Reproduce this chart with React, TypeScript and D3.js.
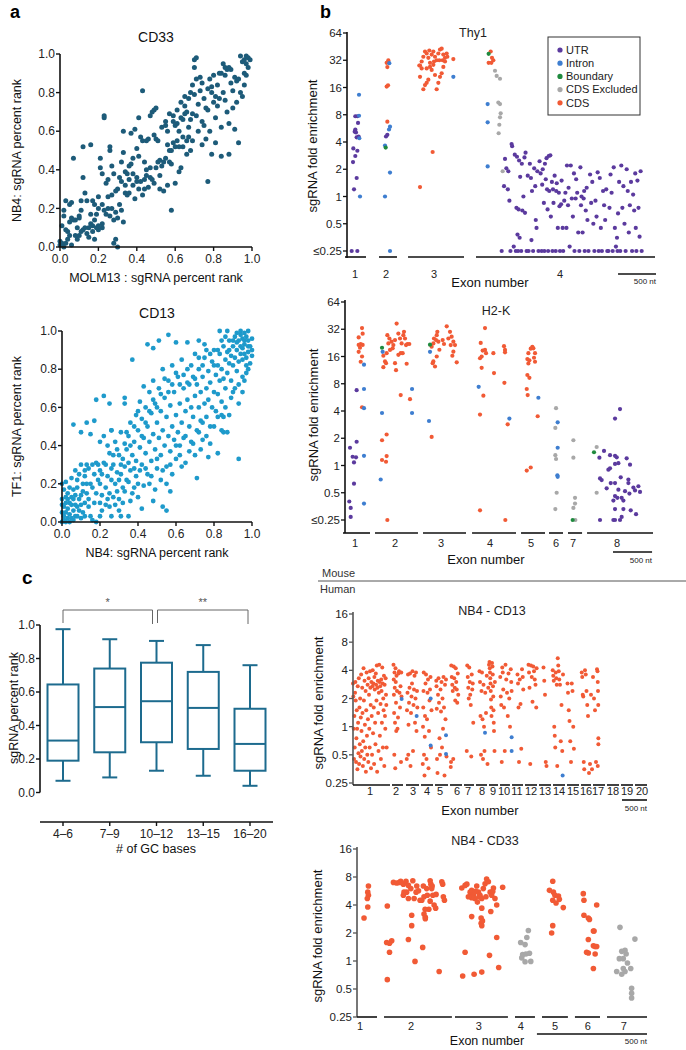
import React from "react";
import * as d3 from "d3";

const FONT = "'Liberation Sans', Arial, Helvetica, sans-serif";

// ---------------- Panel a ----------------
const rankTicks = [0, 0.2, 0.4, 0.6, 0.8, 1.0];

const cd33Rank: [number, number][] = [
  [0.0,0.01],[0.01,0.02],[0.02,0.0],[0.0,0.03],[0.03,0.02],[0.01,0.11],[0.02,0.16],[0.04,0.08],[0.05,0.13],[0.06,0.15],[0.07,0.14],[0.03,0.24],[0.05,0.22],[0.06,0.23],[0.08,0.14],[0.09,0.04],[0.1,0.06],[0.04,0.04],[0.06,0.01],[0.09,0.1],[0.1,0.16],[0.12,0.09],[0.11,0.24],[0.1,0.15],[0.07,0.46],[0.12,0.36],[0.12,0.52],[0.16,0.53],[0.13,0.28],[0.14,0.07],[0.15,0.05],[0.16,0.12],[0.17,0.24],[0.17,0.11],[0.18,0.22],[0.19,0.17],[0.2,0.2],[0.2,0.26],[0.18,0.04],[0.2,0.11],[0.21,0.41],[0.21,0.46],[0.22,0.38],[0.23,0.67],[0.23,0.68],[0.22,0.1],[0.23,0.19],[0.24,0.33],[0.25,0.35],[0.25,0.2],[0.26,0.5],[0.26,0.52],[0.27,0.27],[0.27,0.42],[0.28,0.38],[0.28,0.02],[0.29,0.04],[0.3,0.0],[0.29,0.18],[0.3,0.3],[0.31,0.22],[0.32,0.44],[0.32,0.34],[0.33,0.6],[0.33,0.49],[0.34,0.39],[0.34,0.28],[0.35,0.27],[0.36,0.28],[0.36,0.42],[0.37,0.59],[0.38,0.38],[0.38,0.32],[0.39,0.61],[0.39,0.25],[0.4,0.34],[0.4,0.51],[0.41,0.67],[0.41,0.3],[0.42,0.57],[0.43,0.81],[0.43,0.27],[0.44,0.44],[0.44,0.35],[0.45,0.4],[0.45,0.37],[0.46,0.56],[0.47,0.36],[0.47,0.68],[0.48,0.7],[0.49,0.71],[0.5,0.72],[0.49,0.58],[0.49,0.33],[0.5,0.56],[0.51,0.55],[0.52,0.3],[0.52,0.45],[0.53,0.42],[0.54,0.29],[0.55,0.46],[0.55,0.65],[0.56,0.6],[0.56,0.32],[0.57,0.44],[0.57,0.69],[0.58,0.43],[0.58,0.19],[0.59,0.65],[0.59,0.68],[0.6,0.63],[0.6,0.52],[0.6,0.33],[0.61,0.71],[0.61,0.55],[0.62,0.39],[0.62,0.6],[0.63,0.67],[0.63,0.41],[0.64,0.57],[0.64,0.52],[0.65,0.73],[0.65,0.69],[0.66,0.55],[0.66,0.48],[0.67,0.62],[0.67,0.77],[0.68,0.5],[0.68,0.8],[0.69,0.55],[0.69,0.84],[0.7,0.79],[0.7,0.93],[0.7,0.97],[0.71,0.98],[0.71,0.87],[0.72,0.74],[0.72,0.6],[0.73,0.81],[0.73,0.88],[0.74,0.53],[0.74,0.85],[0.75,0.77],[0.75,0.63],[0.76,0.72],[0.76,0.56],[0.77,0.34],[0.77,0.82],[0.78,0.6],[0.78,0.87],[0.79,0.8],[0.79,0.48],[0.8,0.75],[0.8,0.89],[0.81,0.67],[0.81,0.54],[0.82,0.73],[0.82,0.84],[0.83,0.9],[0.83,0.77],[0.84,0.62],[0.84,0.47],[0.85,0.95],[0.85,0.8],[0.86,0.89],[0.86,0.76],[0.87,0.92],[0.87,0.7],[0.88,0.64],[0.88,0.48],[0.89,0.85],[0.89,0.92],[0.9,0.72],[0.9,0.81],[0.91,0.88],[0.91,0.61],[0.92,0.75],[0.92,0.86],[0.93,0.54],[0.93,0.87],[0.94,0.8],[0.94,0.99],[0.95,0.96],[0.95,0.78],[0.96,0.9],[0.96,0.97],[0.97,0.99],[0.97,0.95],[0.98,0.93],[0.98,0.98],[0.99,0.97],[0.97,0.89],[0.96,0.84],[0.86,0.93],[0.88,0.93],[0.84,0.9],[0.81,0.78],[0.79,0.83],[0.77,0.71],[0.74,0.65],[0.71,0.68],[0.68,0.66],[0.66,0.7],[0.64,0.66],[0.62,0.52],[0.58,0.5],[0.56,0.53],[0.54,0.44],[0.52,0.37],[0.5,0.41],[0.48,0.35],[0.46,0.31],[0.44,0.3],[0.42,0.34],[0.4,0.36],[0.38,0.46],[0.36,0.35],[0.34,0.32],[0.33,0.13],[0.32,0.19],[0.3,0.15],[0.28,0.14],[0.26,0.16],[0.24,0.17],[0.22,0.12],[0.2,0.09],[0.19,0.1],[0.17,0.08],[0.15,0.1],[0.13,0.1],[0.11,0.08],[0.08,0.06],[0.05,0.06],[0.03,0.09],[0.02,0.19],[0.11,0.19],[0.14,0.24],[0.16,0.17],[0.18,0.14],[0.22,0.22],[0.25,0.26],[0.27,0.2],[0.29,0.29],[0.31,0.36],[0.35,0.38],[0.37,0.43],[0.41,0.47],[0.43,0.55],[0.45,0.55],[0.47,0.41],[0.51,0.44],[0.53,0.62],[0.55,0.63],[0.57,0.5],[0.59,0.54],[0.61,0.64],[0.63,0.75],[0.65,0.78],[0.67,0.57],[0.69,0.69]
];

const cd13Rank: [number, number][] = [
  [0.06,0.51],[0.1,0.47],[0.13,0.52],[0.15,0.46],[0.17,0.53],[0.18,0.64],[0.2,0.42],[0.22,0.66],[0.25,0.62],[0.26,0.48],[0.33,0.65],[0.37,0.85],[0.45,0.93],[0.48,0.91],[0.51,0.95],[0.56,0.98],[0.6,0.94],[0.66,0.94],[0.72,0.95],[0.75,0.93],[0.83,1.0],[0.87,1.0],[0.93,0.33],[0.82,0.36],[0.77,0.34],[0.73,0.38],[0.71,0.23],[0.55,0.06],[0.53,0.08],[0.57,0.16],[0.48,0.11],[0.42,0.07],[0.35,0.03],[0.31,0.03],[0.26,0.03],[0.18,0.0],[0.2,0.03],[0.85,0.47],[0.87,0.47],[0.84,0.56],[0.85,0.55],
  [0.0,0.0],[0.01,0.01],[0.02,0.0],[0.03,0.02],[0.01,0.03],[0.0,0.05],[0.02,0.05],[0.04,0.04],[0.05,0.02],[0.03,0.07],[0.01,0.08],[0.0,0.12],[0.02,0.13],[0.04,0.1],[0.06,0.06],[0.07,0.03],[0.05,0.09],[0.08,0.08],[0.06,0.12],[0.03,0.15],[0.01,0.17],[0.0,0.2],[0.04,0.18],[0.07,0.14],[0.09,0.12],[0.08,0.18],[0.05,0.23],[0.1,0.02],[0.11,0.05],[0.12,0.1],[0.1,0.14],[0.11,0.2],[0.09,0.25],[0.12,0.27],[0.13,0.15],[0.14,0.12],[0.15,0.03],[0.16,0.01],[0.14,0.08],[0.15,0.2],[0.16,0.3],[0.17,0.25],[0.13,0.3],[0.02,0.21],[0.06,0.17],[0.0,0.09],[0.02,0.1],[0.03,0.12],[0.07,0.09],[0.08,0.03],[0.04,0.0],[0.06,0.01],[0.09,0.06],[0.12,0.03],[0.1,0.09],[0.11,0.16],[0.13,0.2],[0.05,0.13],
  [0.18,0.31],[0.19,0.22],[0.2,0.27],[0.21,0.14],[0.22,0.31],[0.2,0.1],[0.23,0.18],[0.24,0.24],[0.22,0.45],[0.24,0.4],[0.25,0.36],[0.26,0.48],[0.27,0.13],[0.27,0.3],[0.28,0.42],[0.28,0.2],[0.29,0.26],[0.3,0.35],[0.3,0.12],[0.31,0.47],[0.31,0.25],[0.32,0.33],[0.32,0.18],[0.33,0.62],[0.33,0.29],[0.34,0.38],[0.34,0.22],[0.35,0.45],[0.35,0.31],[0.36,0.52],[0.36,0.27],[0.37,0.35],[0.37,0.15],[0.38,0.42],[0.38,0.28],[0.39,0.56],[0.39,0.32],[0.4,0.48],[0.4,0.2],[0.41,0.39],[0.41,0.63],[0.42,0.3],[0.42,0.54],[0.43,0.44],[0.43,0.71],[0.44,0.36],[0.44,0.6],[0.45,0.5],[0.45,0.25],[0.46,0.42],[0.46,0.68],[0.47,0.57],[0.47,0.32],[0.48,0.46],[0.48,0.74],[0.49,0.38],[0.49,0.62],[0.5,0.52],[0.5,0.28],[0.51,0.44],[0.51,0.7],[0.52,0.35],[0.52,0.58],[0.53,0.48],[0.53,0.8],[0.54,0.4],[0.54,0.65],[0.55,0.55],[0.55,0.29],[0.56,0.45],[0.56,0.74],[0.57,0.37],[0.57,0.61],[0.58,0.5],[0.58,0.82],[0.59,0.43],[0.59,0.68],[0.6,0.56],[0.6,0.33],[0.61,0.47],[0.61,0.76],[0.62,0.62],[0.62,0.4],[0.63,0.52],[0.63,0.85],[0.64,0.44],[0.64,0.7],[0.65,0.58],[0.65,0.31],[0.66,0.64],[0.66,0.8],[0.67,0.5],[0.67,0.72],[0.68,0.42],[0.68,0.6],[0.69,0.76],[0.69,0.55],[0.7,0.66],[0.7,0.88],[0.71,0.48],[0.71,0.72],[0.72,0.6],[0.72,0.8],[0.73,0.53],[0.73,0.68],[0.74,0.76],[0.74,0.43],[0.75,0.62],[0.75,0.86],[0.76,0.7],[0.76,0.55],[0.77,0.79],[0.77,0.64],[0.78,0.73],[0.78,0.5],[0.79,0.84],[0.79,0.6],[0.8,0.68],[0.8,0.9],[0.81,0.77],[0.81,0.58],[0.82,0.82],[0.82,0.67],[0.83,0.74],[0.83,0.88],[0.84,0.8],[0.84,0.63],[0.85,0.92],[0.85,0.75],[0.86,0.85],[0.86,0.7],[0.87,0.89],[0.87,0.78],[0.88,0.95],[0.88,0.83],[0.89,0.87],[0.89,0.74],[0.9,0.92],[0.9,0.82],[0.91,0.97],[0.91,0.86],[0.92,0.9],[0.92,0.79],[0.93,0.95],[0.93,0.84],[0.94,0.98],[0.94,0.88],[0.95,0.96],[0.95,0.91],[0.96,0.99],[0.96,0.93],[0.97,0.97],[0.97,0.86],[0.98,0.95],[0.98,0.89],[0.99,0.92],[0.99,0.83],[1.0,0.87],[1.0,0.96],[0.95,0.76],[0.97,0.78],[0.93,0.72],[0.9,0.68],[0.92,0.99],[0.94,1.0],[0.96,0.95],[0.98,1.0],
  [0.21,0.06],[0.23,0.09],[0.25,0.15],[0.26,0.22],[0.28,0.09],[0.29,0.16],[0.3,0.06],[0.32,0.1],[0.33,0.16],[0.35,0.21],[0.36,0.11],[0.38,0.18],[0.39,0.24],[0.4,0.13],[0.41,0.27],[0.43,0.19],[0.44,0.28],[0.46,0.2],[0.47,0.24],[0.49,0.17],[0.5,0.33],[0.52,0.22],[0.53,0.27],[0.55,0.2],[0.57,0.3],[0.58,0.25],[0.6,0.4],[0.62,0.35],[0.63,0.29],[0.65,0.45],[0.67,0.37],[0.69,0.41],[0.7,0.35],[0.72,0.47],[0.74,0.52],[0.76,0.45],[0.78,0.41],[0.8,0.5],[0.82,0.55],[0.84,0.48],[0.86,0.6],[0.88,0.56],[0.89,0.65],[0.91,0.7],[0.93,0.62],[0.95,0.68],[0.96,0.74],[0.98,0.8],[1.0,0.9],[0.07,0.27],[0.08,0.22],[0.1,0.3],[0.12,0.24],[0.14,0.28],[0.16,0.18],[0.17,0.1],[0.18,0.15],[0.19,0.3],[0.2,0.2],[0.21,0.25],[0.23,0.3],[0.24,0.12],[0.25,0.08],[0.26,0.28],[0.27,0.35],[0.29,0.38],[0.3,0.22],[0.31,0.3],[0.33,0.41],[0.34,0.47],[0.36,0.4],[0.38,0.5],[0.4,0.58],[0.42,0.45],[0.44,0.52],[0.46,0.58],[0.48,0.64],[0.5,0.6],[0.52,0.67],[0.54,0.75],[0.56,0.68],[0.58,0.72],[0.6,0.78],[0.62,0.72],[0.64,0.77],[0.66,0.73],[0.68,0.82],[0.7,0.75],[0.72,0.86],[0.74,0.82],[0.76,0.9],[0.78,0.88],[0.8,0.82],[0.82,0.9],[0.84,0.95],[0.86,0.97],[0.88,0.9],[0.9,0.95],[0.92,0.94],[0.94,0.92],[0.96,0.88],[0.98,0.92],[0.97,0.82],[0.95,0.85]
];

// ---------------- Panel c ----------------
const gcGroups = ["4–6", "7–9", "10–12", "13–15", "16–20"];
const gcWhiskerLow = [0.07, 0.09, 0.13, 0.1, 0.04];
const gcQ1 = [0.19, 0.24, 0.3, 0.26, 0.13];
const gcMedian = [0.31, 0.51, 0.545, 0.505, 0.29];
const gcQ3 = [0.645, 0.74, 0.775, 0.72, 0.5];
const gcWhiskerHigh = [0.975, 0.915, 0.905, 0.88, 0.76];
const gcBrackets: [number, number, string][] = [[0, 2, "*"], [2, 4, "**"]];

// ---------------- Panel b ----------------
const mouseTicks = [0.25, 0.5, 1, 2, 4, 8, 16, 32, 64];
const mouseTickLabels = ["≤0.25", "0.5", "1", "2", "4", "8", "16", "32", "64"];
const humanTicks = [0.25, 0.5, 1, 2, 4, 8, 16];
const humanTickLabels = ["0.25", "0.5", "1", "2", "4", "8", "16"];

const legendItems = ["UTR", "Intron", "Boundary", "CDS Excluded", "CDS"];
const legendColors = ["#5b3a9e", "#3e7ed0", "#1f8a3e", "#a8a8a8", "#f15a35"];

// Thy1 (position in nt, fold enrichment)
const thy1Exons: [number, number][] = [[0, 277], [449, 686], [832, 1571], [1729, 4092]];
const thy1LabelNt = [132, 541, 1175, 2838];
const thy1UTR: [number, number][] = [
  [88,0.25],[163,0.25],[119,1.2],[154,1.6],[106,2.4],[136,2.8],[110,3.4],[163,3.2],[145,5.1],[180,4.6],[136,5.5],[172,6.5],[136,7.7],[163,7.7],[128,5.2],[154,4.5],[541,4.6],[559,4.8],
  [2068,0.25],[2099,1.3],[2112,2.6],[2130,2.05],[2149,1.2],[2156,1.9],[2170,0.9],[2184,0.25],[2199,3.8],[2206,3.6],[2227,0.28],[2241,2.9],[2255,0.25],[2263,0.75],[2270,2.75],[2277,0.38],[2284,0.25],[2291,0.72],[2298,2.5],[2305,0.35],[2312,1.65],[2326,0.25],[2334,2.3],[2341,0.7],[2355,1.0],[2369,2.7],[2376,0.66],[2383,3.05],[2397,0.25],[2412,1.7],[2423,0.25],[2440,2.3],[2454,1.6],[2461,0.33],[2468,1.15],[2483,0.25],[2497,2.05],[2511,1.3],[2518,0.55],[2528,0.45],[2539,1.9],[2554,0.25],[2568,2.45],[2582,1.8],[2596,0.25],[2603,1.35],[2610,2.0],[2625,0.85],[2632,0.25],[2639,2.3],[2650,1.55],[2660,2.65],[2667,1.2],[2674,0.72],[2681,0.25],[2689,2.8],[2696,1.15],[2710,2.85],[2717,0.6],[2731,1.45],[2738,0.25],[2745,1.2],[2752,0.85],[2767,1.7],[2781,0.25],[2788,1.15],[2795,1.4],[2809,0.45],[2823,1.1],[2831,0.78],[2838,0.25],[2852,0.82],[2859,1.5],[2873,0.45],[2880,0.25],[2894,0.9],[2909,1.1],[2923,0.45],[2930,2.2],[2944,0.8],[2951,1.25],[2965,0.28],[2980,2.2],[2994,0.95],[3008,0.6],[3022,1.8],[3029,0.25],[3044,0.95],[3051,1.55],[3065,1.1],[3079,0.4],[3093,0.25],[3107,2.1],[3115,0.8],[3122,1.0],[3136,0.4],[3150,0.95],[3157,1.15],[3164,0.25],[3178,0.7],[3190,1.25],[3200,0.55],[3214,0.25],[3235,1.75],[3249,0.85],[3264,1.45],[3278,0.5],[3292,0.25],[3306,0.9],[3320,0.6],[3335,1.85],[3349,0.25],[3363,1.6],[3377,0.45],[3391,0.25],[3406,1.15],[3420,0.8],[3434,0.55],[3448,1.2],[3462,0.25],[3477,0.25],[3491,0.75],[3505,1.75],[3519,1.1],[3533,0.25],[3547,2.1],[3562,0.45],[3576,0.28],[3590,0.35],[3597,0.25],[3604,0.65],[3618,1.45],[3633,0.25],[3647,2.2],[3661,0.75],[3675,1.3],[3689,0.5],[3704,0.25],[3718,2.0],[3732,1.15],[3746,0.4],[3760,0.8],[3775,1.45],[3789,0.25],[3803,1.05],[3817,0.7],[3831,1.8],[3838,0.45],[3846,0.25],[3860,1.5],[3874,0.75],[3888,0.36],[3902,1.9],[3916,0.25]
];
const thy1Intron: [number, number][] = [
  [185,13.3],[185,7.8],[189,4.4],[198,1.0],[528,3.66],[528,1.0],[594,1.84],[594,5.9],[581,5.5],[585,29.7],[594,0.25],[1430,21],[1883,10.5],[1883,6.6],[1883,2.15]
];
const thy1Boundary: [number, number][] = [[537,3.47],[1896,37.7]];
const thy1Excluded: [number, number][] = [
  [1980,24.5],[2002,21.5],[2046,20],[2024,10.9],[2046,10.5],[2055,8.3],[2046,7.5],[2037,6.2],[2028,5],[2081,1.9]
];
const thy1CDS: [number, number][] = [
  [572,32],[550,30],[559,26.9],[550,16.4],[568,16.9],[559,6.7],
  [990,28],[1012,31],[1034,35],[1056,40],[1078,38],[1100,34],[1122,30],[1144,37],[1166,40],[1188,35],[1210,32],[1232,38],[1254,42],[1276,43],[1298,37],[1320,34],[1342,38],[990,21],[1034,15.3],[1056,17],[1078,18],[1100,19.5],[1122,27],[1144,25],[1166,28.5],[1188,22],[1210,15.3],[1232,18],[1254,21],[1276,23],[1298,27],[1320,31],[1351,35],[1078,26],[1012,26],[981,28],[1113,41],[1175,31],[1245,32],[1289,32],[1430,33],[1157,3.1],[990,1.27],
  [1923,40],[1940,34],[1896,30],[1932,30],[1958,32]
];

// H2-K
const h2kExons: [number, number][] = [[-25,320],[384,934],[998,1549],[1626,2189],[2253,2560],[2611,2790],[2854,3034],[3098,3942]];
const h2kLabelNt = [128, 640, 1229, 1856, 2381, 2701, 2918, 3482];
const h2kUTR: [number, number][] = [
  [64,1.57],[149,1.83],[98,1.25],[141,1.23],[115,1.08],[115,0.63],[149,6.8],[55,0.4],[73,0.34],[73,0.27],
  [3256,1.22],[3315,1.45],[3392,1.3],[3456,1.28],[3478,1.23],[3605,1.2],[3648,1.02],[3371,0.9],[3392,0.93],[3456,1.04],[3499,1.06],[3264,0.72],[3285,0.69],[3401,0.64],[3456,0.64],[3529,0.74],[3627,0.7],[3627,0.64],[3349,0.56],[3499,0.54],[3584,0.52],[3691,0.57],[3712,0.53],[3776,0.51],[3755,0.59],[3456,0.46],[3486,0.44],[3541,0.44],[3563,0.41],[3435,0.41],[3640,0.49],[3456,0.33],[3563,0.33],[3657,0.32],[3725,0.29],[3541,0.27],[3435,0.25],[3456,0.25],[3264,0.25],[3520,0.25],[3456,3.3],[3520,4.2]
];
const h2kIntron: [number, number][] = [
  [243,13],[243,7],[243,4.3],[243,1.28],[243,0.38],[474,3.8],[457,0.7],[482,18],[858,7],[858,3.8],[1088,18],[1075,3.1],[1711,7.4],[2104,3.3],[2475,5.6],[2722,3.0],[2722,1.57],[2718,0.78],[2722,0.75]
];
const h2kBoundary: [number, number][] = [[474,20],[1088,21.6],[2914,0.25],[3187,1.4]];
const h2kExcluded: [number, number][] = [
  [2701,4.3],[2692,2.6],[2692,1.3],[2701,1.18],[2709,0.5],[2692,0.33],[2923,1.9],[2923,1.22],[2944,0.44],[2944,0.38],[2923,0.34],[2948,0.25],[3221,1.6],[3221,0.5]
];
const h2kCDS: [number, number][] = [
  [218,33],[226,28.6],[175,26],[201,22],[175,21.5],[226,21.5],[192,20],[175,18],[218,16],[201,14],[218,4.4],
  [542,27.5],[568,25.3],[555,22.3],[597,23.3],[576,18.9],[491,16.3],[512,14.1],[525,13.5],[533,17.4],[619,21.4],[640,24.3],[661,37],[683,28.7],[704,25.3],[725,22.3],[747,27.5],[755,30],[768,25.3],[781,21.4],[798,22],[823,22],[683,16.7],[713,17.4],[738,17.4],[640,13.5],[789,13.3],[653,11.3],[491,12.2],[610,19.7],[713,6.0],[832,5.4],[474,1.9],[533,2.2],[474,1.15],[525,1.1],[533,1.27],[542,0.25],
  [1182,30],[1174,27.5],[1139,25.3],[1165,24.3],[1131,22.3],[1195,23.3],[1302,34.5],[1344,30],[1365,26.5],[1323,25.3],[1387,23.3],[1353,21.4],[1408,21.4],[1387,18.1],[1374,16.3],[1430,13.8],[1131,14.1],[1122,13.5],[1152,12.4],[1109,20.5],[1208,19],[1174,16],[1250,24.3],[1267,22],[1109,2.07],
  [1792,33],[1737,22.6],[1762,18.6],[1792,18.9],[1805,17.4],[1728,15.3],[1749,16],[1899,17.4],[1749,12],[1907,10.5],[2035,20.8],[2048,18.9],[2048,17.8],[2040,8.2],[1771,5.9],[1728,3.65],[2082,2.85],[1728,0.32],[2052,0.25],
  [2398,20.5],[2377,19.5],[2411,19.7],[2347,17.4],[2432,17.4],[2334,15],[2360,14.5],[2419,15.5],[2347,13.4],[2432,14],[2334,10],[2360,9.3],[2326,7],[2338,6],[2466,3.5],[2326,0.88],[2377,0.95]
];

// NB4 - CD13
const cd13Exons: [number, number][] = [[0,740],[780,1000],[1060,1320],[1360,1600],[1640,1900],[1940,2180],[2220,2420],[2460,2680],[2720,2900],[2940,3140],[3180,3400],[3440,3680],[3720,3960],[4000,4240],[4280,4520],[4560,4760],[4800,5040],[5080,5320],[5360,5600],[5640,5880]];
const cd13LabelNt = [340,860,1200,1480,1740,2080,2300,2580,2800,3020,3280,3560,3840,4120,4400,4660,4900,5200,5480,5780];
const cd13CDS: [number, number][] = [
  [0,2.9],[7,2.1],[14,0.95],[20,0.45],[27,1.3],[34,0.6],[41,2.3],[48,3.0],[54,1.9],[61,0.42],[68,0.75],[75,1.5],[82,0.95],[88,0.35],[95,2.7],[102,1.1],[109,0.52],[116,3.3],[122,0.4],[129,1.6],[136,0.65],[143,2.0],[150,0.48],[156,1.25],[163,3.6],[170,0.9],[177,0.55],[184,2.6],[190,1.4],[197,0.38],[204,0.7],[211,4.2],[218,1.9],[224,0.45],[231,3.1],[238,1.05],[245,0.6],[252,2.4],[258,0.33],[265,1.5],[272,3.8],[279,0.8],[286,0.5],[292,2.8],[299,1.2],[306,0.42],[313,3.3],[320,2.2],[326,0.95],[333,0.6],[340,3.9],[347,2.6],[354,1.7],[360,0.36],[367,3.0],[374,1.3],[381,0.5],[388,2.7],[394,4.0],[401,0.85],[408,2.9],[415,1.6],[422,0.4],[428,3.4],[435,2.5],[442,1.1],[449,0.65],[456,3.7],[462,2.8],[469,1.9],[476,4.5],[483,0.33],[490,2.6],[496,3.1],[503,1.4],[510,0.55],[517,2.3],[524,4.6],[530,3.0],[537,0.8],[544,2.7],[551,1.75],[558,0.45],[564,3.2],[571,2.4],[578,1.1],[585,4.3],[592,2.9],[598,0.6],[605,2.0],[612,1.5],[619,3.5],[626,0.38],[632,2.8],[639,1.3],[646,0.95],[653,3.3],[660,2.2],[666,1.7],[673,0.6],
  [810,4.6],[815,3.2],[818,2.2],[822,1.4],[826,0.5],[830,3.8],[835,2.6],[840,1.1],[845,0.36],[850,4.2],[855,3.0],[860,1.8],[865,0.9],[870,3.5],[880,2.4],[890,0.95],[900,1.25],[910,3.7],[920,3.9],[930,2.3],[940,1.6],[950,2.7],[960,0.42],[965,3.8],[970,2.1],
  [1075,0.45],[1080,1.5],[1090,2.3],[1100,3.6],[1105,0.5],[1110,1.05],[1120,1.8],[1130,2.6],[1140,3.7],[1150,0.38],[1160,1.4],[1170,2.1],[1180,2.9],[1190,3.9],[1200,0.55],[1210,1.7],[1220,2.5],[1230,3.5],[1240,1.1],[1250,2.0],[1260,3.8],[1270,0.9],[1280,2.4],[1287,1.6],
  [1395,0.4],[1400,1.0],[1405,1.6],[1410,2.4],[1415,3.8],[1420,0.5],[1430,0.3],[1435,0.78],[1440,1.3],[1450,2.9],[1460,3.6],[1470,0.45],[1480,1.2],[1490,2.3],[1500,3.2],[1510,0.36],[1520,0.9],[1530,1.9],[1540,2.5],[1550,3.4],[1560,0.6],[1570,1.5],
  [1665,3.1],[1670,2.7],[1675,1.55],[1680,0.45],[1690,0.32],[1700,2.2],[1710,3.3],[1720,1.8],[1730,0.75],[1740,0.5],[1750,2.5],[1760,1.45],[1770,3.0],[1780,0.6],[1790,2.0],[1800,0.95],[1810,3.4],[1820,1.6],[1830,0.3],[1840,2.8],[1850,1.2],[1860,3.2],[1870,0.48],
  [1955,0.37],[1960,0.42],[1965,4.5],[1975,3.4],[1985,2.8],[1995,2.4],[2005,0.45],[2015,4.4],[2025,3.3],[2035,2.6],[2045,1.9],[2055,4.2],[2065,3.0],[2075,2.5],[2085,1.8],[2095,3.7],[2105,2.2],
  [2275,0.55],[2285,4.5],[2295,3.4],[2305,2.6],[2315,2.0],[2325,4.3],[2335,3.0],[2345,2.2],[2355,1.7],[2365,0.48],[2375,3.6],[2385,2.5],[2395,2.9],[2405,1.1],
  [2530,3.9],[2540,3.0],[2550,1.3],[2560,0.5],[2570,2.4],[2580,3.8],[2590,1.2],[2600,0.45],[2610,2.8],[2620,1.0],[2630,0.55],[2645,2.3],[2660,1.4],[2675,3.5],[2690,0.4],[2705,2.6],[2720,4.6],[2730,4.9],[2735,4.2],[2740,3.8],[2745,3.3],[2750,2.9],[2755,2.4],[2760,1.95],[2765,1.6],[2770,1.3],[2780,4.8],[2790,4.4],[2795,3.6],[2800,2.7],[2805,2.1],[2810,1.5],[2815,1.1],[2820,0.9],[2830,0.55],[2838,3.0],
  [2945,3.4],[2955,2.1],[2965,1.7],[2975,0.42],[2985,4.3],[2995,3.8],[3005,2.5],[3020,1.6],[3035,0.55],[3050,4.6],[3065,3.2],[3080,2.3],[3095,1.3],[3110,3.7],[3125,2.0],[3140,1.0],[3155,4.1],[3165,3.0],[3172,2.4],
  [3290,3.6],[3300,2.9],[3310,1.6],[3320,0.42],[3335,3.2],[3350,1.75],[3365,0.58],[3380,4.1],[3395,3.4],[3405,2.5],
  [3510,4.6],[3520,3.8],[3530,2.6],[3545,0.4],[3560,4.5],[3575,3.4],[3590,1.85],[3605,4.4],[3620,3.9],[3635,3.2],[3650,2.8],[3665,1.6],[3672,4.2],
  [3810,4.3],[3825,3.1],[3840,2.2],[3855,0.42],[3870,0.38],
  [3995,4.0],[4005,3.5],[4015,3.1],[4025,1.0],[4035,0.8],[4045,0.6],[4055,3.8],[4065,3.3],[4075,2.8],[4085,0.38],[4095,5.4],[4105,4.5],[4115,3.9],[4125,3.2],[4140,2.8],[4155,0.7],[4170,1.7],[4185,0.55],[4200,3.6],
  [4290,2.9],[4300,2.3],[4315,1.5],[4330,1.15],[4345,0.7],[4360,0.42],[4375,2.9],[4390,2.4],[4405,1.0],[4418,0.58],
  [4575,3.8],[4585,3.4],[4595,2.2],[4605,2.1],[4615,0.42],[4625,0.35],[4640,4.0],[4655,3.6],[4670,2.4],[4685,1.7],[4700,1.3],[4720,0.32],[4740,0.4],[4760,2.2],[4780,0.35],[4800,3.4],[4820,2.0],[4840,1.5],[4860,0.42],[4880,4.1],[4890,3.9],[4895,3.0],[4900,2.4],[4905,1.7],[4907,0.65],[4907,0.75],[4895,0.38]
];
const cd13Intron: [number, number][] = [
  [973,1.97],[1273,1.3],[1553,2.0],[1553,0.63],[1860,0.81],[1860,0.51],[2640,0.86],[3173,0.77],[3173,0.55],[4193,0.3]
];

// NB4 - CD33
const cd33Exons: [number, number][] = [[0,91],[123,432],[446,687],[719,810],[842,960],[992,1106],[1138,1320]];
const cd33LabelNt = [14, 246, 555, 746, 901, 1051, 1215];
const cd33CDS: [number, number][] = [
  [32,2.9],[52,6.4],[49,5.5],[52,5.1],[47,4.7],[49,3.8],
  [138,3.9],[135,1.58],[148,1.55],[158,1.65],[148,1.24],[138,0.63],[166,7],[181,6.9],[193,7.0],[199,7.2],[211,6.7],[223,7.2],[234,6.5],[226,5.5],[211,5.1],[234,4.7],[214,5.5],[245,6.0],[254,7.3],[260,4.7],[269,5.5],[272,6.4],[280,5.7],[287,4.5],[295,4.5],[302,6.4],[305,4.9],[317,6.0],[320,5.1],[333,7.3],[336,6.7],[340,6.0],[345,5.1],[342,6.4],[327,3.6],[310,3.6],[305,3.2],[311,2.95],[311,2.85],[333,4.4],[351,4.0],[358,3.7],[360,5.2],[386,7.1],[390,6.7],[393,4.9],[398,4.5],[374,0.77],[249,3.1],[249,2.4],[234,1.7],[299,1.4],[264,0.99],
  [477,6.1],[492,6.5],[500,6.7],[515,5.5],[522,5.75],[530,5.1],[537,4.7],[545,6.4],[553,5.5],[560,5.1],[568,4.7],[575,6.0],[583,6.75],[587,4.9],[590,7.6],[598,7.1],[606,5.5],[613,5.1],[621,6.1],[628,4.7],[618,5.6],[556,4.9],[540,5.6],[522,4.8],[507,4.9],[548,4.3],[663,6.2],[636,4.0],[609,3.4],[568,3.7],[565,2.9],[565,2.55],[568,2.4],[571,2.7],[522,3.0],[636,1.79],[603,1.15],[492,1.24],[481,0.69],[533,0.72],[568,0.76],[645,0.85],
  [891,7.2],[876,5.75],[894,5.5],[901,5.1],[891,4.5],[917,5.0],[921,4.6],[906,4.2],[939,3.75],[891,2.4],[886,2.0],
  [1030,5.3],[1033,4.5],[1033,3.1],[1053,2.9],[1058,2.8],[1076,2.1],[1079,2.1],[1053,1.7],[1076,1.46],[1084,1.43],[1091,1.43],[1045,1.24],[1053,1.22],[1084,1.19],[1076,0.83],[1091,4.0]
];
const cd33Excluded: [number, number][] = [
  [745,1.58],[765,1.5],[773,1.79],[780,2.13],[754,1.17],[769,1.19],[785,1.21],[765,0.98],[791,0.99],[750,1.08],
  [1197,2.3],[1265,1.72],[1205,1.27],[1220,1.3],[1194,1.06],[1212,1.06],[1225,1.19],[1231,0.95],[1212,0.83],[1182,0.77],[1205,0.72],[1220,0.77],[1246,0.83],[1250,0.51],[1250,0.45],[1250,0.4]
];

// ---------------- Components ----------------
type Pt = [number, number];

function RankScatter(p: {
  data: Pt[]; color: string; r: number; x0: number; x1: number; yTop: number; yBottom: number;
  title: string; titleY: number; xTitle: string; yTitle: string; yTitleX: number;
}) {
  const x = d3.scaleLinear().domain([0, 1]).range([p.x0, p.x1]);
  const y = d3.scaleLinear().domain([0, 1]).range([p.yBottom, p.yTop]);
  const cx = (p.x0 + p.x1) / 2;
  return (
    <g fontFamily={FONT}>
      {p.data.map(([a, b], i) => (
        <circle key={i} cx={x(a)} cy={y(b)} r={p.r} fill={p.color} />
      ))}
      <line x1={p.x0} x2={p.x0} y1={p.yTop} y2={p.yBottom} stroke="#111" strokeWidth={1.6} />
      <line x1={p.x0} x2={p.x1} y1={p.yBottom} y2={p.yBottom} stroke="#111" strokeWidth={1.6} />
      {rankTicks.map((t) => (
        <g key={t}>
          <line x1={p.x0 - 4} x2={p.x0} y1={y(t)} y2={y(t)} stroke="#111" strokeWidth={1.4} />
          <text x={p.x0 - 5} y={y(t)} dy="0.35em" textAnchor="end" fontSize={12} fill="#222">{t.toFixed(1)}</text>
          <line x1={x(t)} x2={x(t)} y1={p.yBottom} y2={p.yBottom + 4} stroke="#111" strokeWidth={1.4} />
          <text x={x(t)} y={p.yBottom + 16} textAnchor="middle" fontSize={12} fill="#222">{t.toFixed(1)}</text>
        </g>
      ))}
      <text x={cx} y={p.titleY} textAnchor="middle" fontSize={14} fill="#111">{p.title}</text>
      <text x={cx} y={p.yBottom + 35} textAnchor="middle" fontSize={12.5} fill="#111">{p.xTitle}</text>
      <text transform={`translate(${p.yTitleX},${(p.yTop + p.yBottom) / 2}) rotate(-90)`} textAnchor="middle" dy="0.35em" fontSize={12.5} fill="#111">{p.yTitle}</text>
    </g>
  );
}

function BoxPanel() {
  const x = d3.scalePoint<string>().domain(gcGroups).range([63, 250]);
  const y = d3.scaleLinear().domain([0, 1]).range([792.5, 625]);
  const col = "#1d6b8e";
  const bw = 31;
  const cw = 15;
  const axisY = 822;
  return (
    <g fontFamily={FONT}>
      {gcGroups.map((g, i) => {
        const c = x(g) as number;
        return (
          <g key={g} stroke={col} strokeWidth={2} fill="none">
            <line x1={c} x2={c} y1={y(gcWhiskerHigh[i])} y2={y(gcQ3[i])} />
            <line x1={c} x2={c} y1={y(gcQ1[i])} y2={y(gcWhiskerLow[i])} />
            <line x1={c - cw / 2} x2={c + cw / 2} y1={y(gcWhiskerHigh[i])} y2={y(gcWhiskerHigh[i])} />
            <line x1={c - cw / 2} x2={c + cw / 2} y1={y(gcWhiskerLow[i])} y2={y(gcWhiskerLow[i])} />
            <rect x={c - bw / 2} y={y(gcQ3[i])} width={bw} height={y(gcQ1[i]) - y(gcQ3[i])} />
            <line x1={c - bw / 2} x2={c + bw / 2} y1={y(gcMedian[i])} y2={y(gcMedian[i])} />
          </g>
        );
      })}
      <line x1={40} x2={40} y1={625} y2={792.5} stroke="#111" strokeWidth={1.6} />
      {[0, 0.2, 0.4, 0.6, 0.8, 1.0].map((t) => (
        <g key={t}>
          <line x1={36} x2={40} y1={y(t)} y2={y(t)} stroke="#111" strokeWidth={1.4} />
          <text x={35} y={y(t)} dy="0.35em" textAnchor="end" fontSize={12} fill="#222">{t.toFixed(1)}</text>
        </g>
      ))}
      <line x1={40} x2={273} y1={axisY} y2={axisY} stroke="#111" strokeWidth={1.6} />
      {gcGroups.map((g) => (
        <g key={g}>
          <line x1={x(g)} x2={x(g)} y1={axisY} y2={axisY + 4} stroke="#111" strokeWidth={1.4} />
          <text x={x(g)} y={axisY + 16} textAnchor="middle" fontSize={12} fill="#222">{g}</text>
        </g>
      ))}
      <text x={156} y={axisY + 31} textAnchor="middle" fontSize={12.5} fill="#111"># of GC bases</text>
      <text transform={`translate(14,708) rotate(-90)`} textAnchor="middle" dy="0.35em" fontSize={12.5} fill="#111">sgRNA percent rank</text>
      {gcBrackets.map(([a, b, s], i) => {
        const xa = (x(gcGroups[a]) as number) + (i === 1 ? 1 : 0);
        const xb = (x(gcGroups[b]) as number) - (i === 0 ? 4 : 2);
        return (
          <g key={i}>
            <path d={`M${xa},623 V610 H${xb} V624`} fill="none" stroke="#666" strokeWidth={1} />
            <text x={(xa + xb) / 2} y={606} textAnchor="middle" fontSize={11} fill="#555">{s}</text>
          </g>
        );
      })}
    </g>
  );
}

type SeriesDef = { data: Pt[]; color: string; r: number };

function ExonPlot(p: {
  series: SeriesDef[]; ntDomain: [number, number]; xRange: [number, number];
  yTopVal: number; yTopPx: number; yBotPx: number;
  ticks: number[]; tickLabels: string[];
  axisX: number; axisTop: number; axisBottom: number; axisColor: string;
  exons: [number, number][]; segY: number; labelNt: number[]; labelY: number;
  scaleBar: [number, number]; scaleY: number; ntLabelY: number;
  title: string; titleX: number; titleY: number;
  yTitleX: number; yTitleY: number; exonTitleX: number; exonTitleY: number; exonTitleSize?: number;
}) {
  const x = d3.scaleLinear().domain(p.ntDomain).range(p.xRange);
  const y = d3.scaleLog().base(2).domain([0.25, p.yTopVal]).range([p.yBotPx, p.yTopPx]).clamp(true);
  return (
    <g fontFamily={FONT}>
      {p.series.map((s, si) => (
        <g key={si}>
          {s.data.map(([a, b], i) => (
            <circle key={i} cx={x(a)} cy={y(b)} r={s.r} fill={s.color} />
          ))}
        </g>
      ))}
      <line x1={p.axisX} x2={p.axisX} y1={p.axisTop} y2={p.axisBottom} stroke={p.axisColor} strokeWidth={1.6} />
      {p.ticks.map((t, i) => (
        <g key={t}>
          <line x1={p.axisX - 4} x2={p.axisX} y1={y(t)} y2={y(t)} stroke={p.axisColor} strokeWidth={1.3} />
          <text x={p.axisX - 5} y={y(t)} dy="0.35em" textAnchor="end" fontSize={11.5} fill="#222">{p.tickLabels[i]}</text>
        </g>
      ))}
      {p.exons.map(([a, b], i) => (
        <line key={i} x1={x(a)} x2={x(b)} y1={p.segY} y2={p.segY} stroke="#111" strokeWidth={1.6} />
      ))}
      {p.labelNt.map((n, i) => (
        <text key={i} x={x(n)} y={p.labelY} textAnchor="middle" fontSize={11} fill="#222">{i + 1}</text>
      ))}
      <line x1={x(p.scaleBar[0])} x2={x(p.scaleBar[1])} y1={p.scaleY} y2={p.scaleY} stroke="#111" strokeWidth={1.6} />
      <text x={x(p.scaleBar[1])} y={p.ntLabelY} textAnchor="end" fontSize={8} fill="#222">500 nt</text>
      <text x={p.titleX} y={p.titleY} textAnchor="middle" fontSize={12.5} fill="#222">{p.title}</text>
      <text x={p.exonTitleX} y={p.exonTitleY} textAnchor="middle" fontSize={p.exonTitleSize ?? 13} fill="#111">Exon number</text>
      <text transform={`translate(${p.yTitleX},${p.yTitleY}) rotate(-90)`} textAnchor="middle" dy="0.35em" fontSize={13} fill="#111">sgRNA fold enrichment</text>
    </g>
  );
}

export default function App() {
  const [cUTR, cIntron, cBoundary, cExcl, cCDS] = legendColors;
  const rM = 2.1;
  return (
    <svg width={686} height={1050} style={{ position: "absolute", left: 0, top: 0, background: "#fff" }}>
      <rect x={0} y={0} width={686} height={1050} fill="#fff" />
      {/* panel letters */}
      <text x={10} y={18} fontFamily={FONT} fontWeight="bold" fontSize={18}>a</text>
      <text x={320} y={18} fontFamily={FONT} fontWeight="bold" fontSize={18}>b</text>
      <text x={22} y={584} fontFamily={FONT} fontWeight="bold" fontSize={19}>c</text>

      <RankScatter data={cd33Rank} color="#1d5b79" r={2.5} x0={60} x1={252} yTop={54} yBottom={247}
        title="CD33" titleY={42} xTitle="MOLM13 : sgRNA percent rank" yTitle="NB4: sgRNA percent rank" yTitleX={17} />
      <RankScatter data={cd13Rank} color="#1e9acb" r={2.4} x0={62} x1={252} yTop={331} yBottom={522}
        title="CD13" titleY={318} xTitle="NB4: sgRNA percent rank" yTitle="TF1: sgRNA percent rank" yTitleX={17} />

      <BoxPanel />

      <ExonPlot
        series={[
          { data: thy1UTR, color: cUTR, r: rM },
          { data: thy1CDS, color: cCDS, r: rM },
          { data: thy1Excluded, color: cExcl, r: rM },
          { data: thy1Intron, color: cIntron, r: rM },
          { data: thy1Boundary, color: cBoundary, r: rM },
        ]}
        ntDomain={[0, 4105]} xRange={[345, 656]} yTopVal={64} yTopPx={33} yBotPx={251}
        ticks={mouseTicks} tickLabels={mouseTickLabels}
        axisX={347} axisTop={32} axisBottom={258} axisColor="#111"
        exons={thy1Exons} segY={257} labelNt={thy1LabelNt} labelY={278}
        scaleBar={[3604, 4105]} scaleY={274} ntLabelY={284}
        title="Thy1" titleX={473} titleY={37} yTitleX={312} yTitleY={146}
        exonTitleX={490} exonTitleY={287}
      />
      {/* legend */}
      <g fontFamily={FONT}>
        <rect x={548} y={37} width={92} height={78} fill="#fff" stroke="#333" strokeWidth={1} />
        {legendItems.map((l, i) => (
          <g key={l}>
            <circle cx={560} cy={50 + i * 13.2} r={2.6} fill={legendColors[i]} />
            <text x={566} y={50 + i * 13.2} dy="0.35em" fontSize={11} fill="#222">{l}</text>
          </g>
        ))}
      </g>

      <ExonPlot
        series={[
          { data: h2kUTR, color: cUTR, r: rM },
          { data: h2kCDS, color: cCDS, r: rM },
          { data: h2kExcluded, color: cExcl, r: rM },
          { data: h2kIntron, color: cIntron, r: rM },
          { data: h2kBoundary, color: cBoundary, r: rM },
        ]}
        ntDomain={[0, 3942]} xRange={[345, 653]} yTopVal={64} yTopPx={302} yBotPx={520}
        ticks={mouseTicks} tickLabels={mouseTickLabels}
        axisX={345} axisTop={300} axisBottom={533} axisColor="#111"
        exons={h2kExons} segY={533} labelNt={h2kLabelNt} labelY={547}
        scaleBar={[3430, 3930]} scaleY={552} ntLabelY={563}
        title="H2-K" titleX={496} titleY={315} yTitleX={313} yTitleY={415}
        exonTitleX={486} exonTitleY={564}
      />

      {/* Mouse / Human divider */}
      <g fontFamily={FONT} fill="#333">
        <text x={322} y={577} fontSize={11}>Mouse</text>
        <line x1={318} x2={686} y1={581} y2={581} stroke="#555" strokeWidth={1} />
        <text x={320} y={593} fontSize={11}>Human</text>
      </g>

      <ExonPlot
        series={[
          { data: cd13CDS, color: cCDS, r: 2.0 },
          { data: cd13Intron, color: cIntron, r: 2.0 },
        ]}
        ntDomain={[0, 5880]} xRange={[353, 647]} yTopVal={16} yTopPx={614} yBotPx={783}
        ticks={humanTicks} tickLabels={humanTickLabels}
        axisX={353} axisTop={612} axisBottom={785} axisColor="#555"
        exons={cd13Exons} segY={785} labelNt={cd13LabelNt} labelY={795}
        scaleBar={[5380, 5880]} scaleY={800} ntLabelY={811}
        title="NB4 - CD13" titleX={492} titleY={615} yTitleX={318} yTitleY={703}
        exonTitleX={480} exonTitleY={815}
      />

      <ExonPlot
        series={[
          { data: cd33CDS, color: cCDS, r: 2.8 },
          { data: cd33Excluded, color: cExcl, r: 2.8 },
        ]}
        ntDomain={[0, 1320]} xRange={[357, 647]} yTopVal={16} yTopPx={849} yBotPx={1017}
        ticks={humanTicks} tickLabels={humanTickLabels}
        axisX={357} axisTop={847} axisBottom={1017} axisColor="#555"
        exons={cd33Exons} segY={1017} labelNt={cd33LabelNt} labelY={1030}
        scaleBar={[819, 1320]} scaleY={1034} ntLabelY={1044}
        title="NB4 - CD33" titleX={485} titleY={845} yTitleX={317} yTitleY={936}
        exonTitleX={487} exonTitleY={1045} exonTitleSize={12.5}
      />
    </svg>
  );
}
